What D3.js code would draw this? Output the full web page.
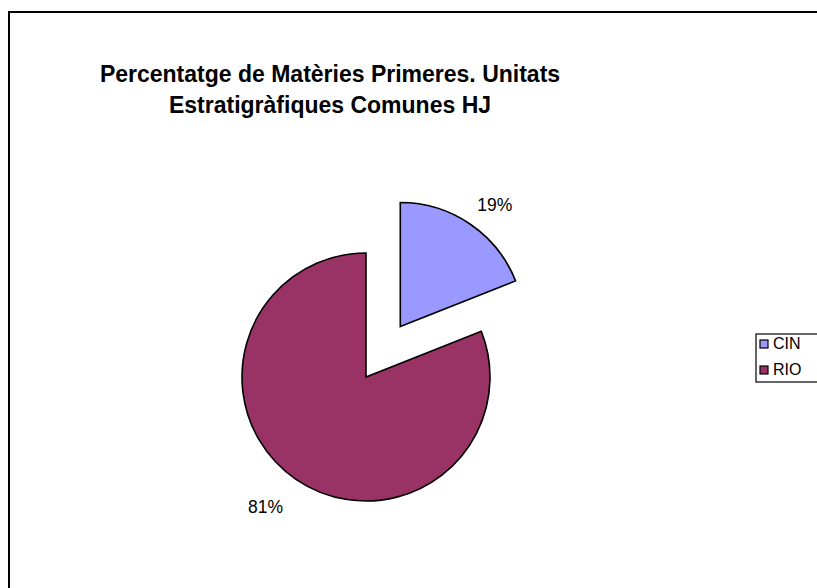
<!DOCTYPE html>
<html>
<head>
<meta charset="utf-8">
<script src="https://cdn.jsdelivr.net/npm/d3@7"></script>
<style>
  html, body { margin: 0; padding: 0; background: #fff; }
  svg { display: block; font-family: Arial, "Liberation Sans", sans-serif; }
</style>
</head>
<body>
<svg id="chart" width="817" height="588"></svg>
<script>
// Raw material shares per stratigraphic unit
const categories = ["CIN", "RIO"];
const values = [19, 81];
const colors = ["#9999FF", "#993366"];
const titleLines = ["Percentatge de Matèries Primeres. Unitats", "Estratigràfiques Comunes HJ"];

const svg = d3.select("#chart");

// Chart frame (runs off the right and bottom edges)
svg.append("rect")
  .attr("x", 9).attr("y", 12)
  .attr("width", 830).attr("height", 600)
  .attr("fill", "#fff")
  .attr("stroke", "#000")
  .attr("stroke-width", 2);

// Title
svg.append("text")
  .attr("text-anchor", "middle")
  .attr("font-weight", "bold")
  .attr("font-size", 23)
  .selectAll("tspan")
  .data(titleLines)
  .join("tspan")
  .attr("x", 330)
  .attr("y", (d, i) => 82 + i * 31)
  .text(d => d);

// Pie
const cx = 366, cy = 377, radius = 124, explode = 61;
const pie = d3.pie().sort(null).value(d => d.value).startAngle(0).endAngle(2 * Math.PI);
const arcs = pie(categories.map((c, i) => ({ name: c, value: values[i], color: colors[i] })));
const arc = d3.arc().innerRadius(0).outerRadius(radius);
const total = d3.sum(values);

// Only the first slice (CIN) is pulled out from the centre
const offset = (d, i) => {
  if (i !== 0) return [0, 0];
  const a = (d.startAngle + d.endAngle) / 2;
  return [Math.sin(a) * explode, -Math.cos(a) * explode];
};

const g = svg.append("g").attr("transform", `translate(${cx},${cy})`);

const slices = g.selectAll("g.slice")
  .data(arcs)
  .join("g")
  .attr("class", "slice")
  .attr("transform", (d, i) => { const o = offset(d, i); return `translate(${o[0]},${o[1]})`; });

slices.append("path")
  .attr("d", arc)
  .attr("fill", d => d.data.color)
  .attr("stroke", "#000")
  .attr("stroke-width", 1.6)
  .attr("stroke-linejoin", "miter");

// Percentage labels outside each slice
const labelR = 152;
slices.append("text")
  .attr("text-anchor", "middle")
  .attr("dominant-baseline", "central")
  .attr("font-size", 17.5)
  .attr("fill", "#000")
  .attr("x", d => { const a = (d.startAngle + d.endAngle) / 2; return Math.sin(a) * labelR + Math.sign(Math.sin(a)) * 12 - 3; })
  .attr("y", d => { const a = (d.startAngle + d.endAngle) / 2; return -Math.cos(a) * labelR + 4; })
  .text(d => Math.round(d.data.value / total * 100) + "%");

// Legend
const legend = svg.append("g").attr("transform", "translate(756,334)");
legend.append("rect")
  .attr("width", 80).attr("height", 48)
  .attr("fill", "#fff").attr("stroke", "#000").attr("stroke-width", 1.2);

const items = legend.selectAll("g.item")
  .data(categories)
  .join("g")
  .attr("class", "item")
  .attr("transform", (d, i) => `translate(4,${6 + i * 26})`);

items.append("rect")
  .attr("width", 8).attr("height", 8)
  .attr("fill", (d, i) => colors[i])
  .attr("stroke", "#000").attr("stroke-width", 1.2);

items.append("text")
  .attr("x", 13).attr("y", 9)
  .attr("font-size", 16)
  .text(d => d);
</script>
</body>
</html>
